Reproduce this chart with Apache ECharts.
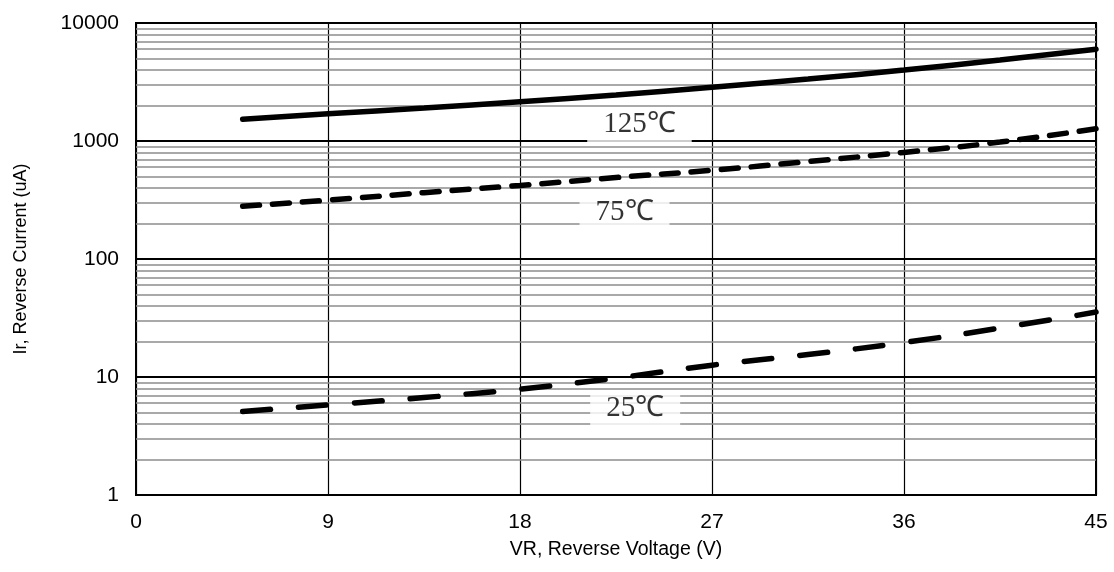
<!DOCTYPE html>
<html><head><meta charset="utf-8">
<script src="https://cdn.jsdelivr.net/npm/echarts@6/dist/echarts.min.js"></script>
<style>html,body{margin:0;padding:0;background:#fff}#c{width:1114px;height:572px}</style>
</head><body><div id="c"></div>
<script>
const voltage = [5, 9, 13.5, 18, 22.5, 27, 31.5, 36, 40.5, 45];
const ir125 = [1530, 1700, 1900, 2150, 2450, 2850, 3350, 4000, 4850, 6000];
const ir75 = [280, 315, 365, 420, 490, 565, 670, 800, 980, 1270];
const ir25 = [5.1, 5.8, 6.7, 7.9, 9.8, 12.6, 15.5, 19.6, 26, 35.5];
const xTicks = [0, 9, 18, 27, 36, 45];
const yTicks = [1, 10, 100, 1000, 10000];
const tempLabels = [
  { text: '125℃', x: 23.6, y: 1380 },
  { text: '75℃', x: 22.9, y: 249 },
  { text: '25℃', x: 23.4, y: 5.43 }
];
const minorGrid = [];
for (let d = 1; d < 10000; d *= 10) for (let k = 2; k <= 9; k++) minorGrid.push(d * k);

const chart = echarts.init(document.getElementById('c'));
const pair = (ys) => voltage.map((v, i) => [v, ys[i]]);
chart.setOption({
  animation: false,
  backgroundColor: '#fff',
  grid: { left: 136, right: 18, top: 23, bottom: 77, show: true, borderColor: '#000', borderWidth: 2, backgroundColor: 'transparent' },
  xAxis: {
    type: 'value', min: xTicks[0], max: xTicks[xTicks.length - 1], interval: 9,
    name: 'VR, Reverse Voltage (V)', nameLocation: 'middle', nameGap: 45,
    nameTextStyle: { fontFamily: 'Liberation Sans', fontSize: 19.5, color: '#000' },
    axisLine: { show: true, lineStyle: { color: '#000', width: 2 } },
    axisTick: { show: false },
    axisLabel: { fontFamily: 'Liberation Sans', fontSize: 21, color: '#000', margin: 17 },
    splitLine: { show: true, lineStyle: { color: '#000', width: 1.2 } }
  },
  yAxis: {
    type: 'log', logBase: 10, min: yTicks[0], max: yTicks[yTicks.length - 1],
    name: 'Ir, Reverse Current (uA)', nameLocation: 'middle', nameGap: 106,
    nameTextStyle: { fontFamily: 'Liberation Sans', fontSize: 18, color: '#000' },
    axisLine: { show: true, lineStyle: { color: '#000', width: 2 } },
    axisTick: { show: false },
    axisLabel: { fontFamily: 'Liberation Sans', fontSize: 21, color: '#000', margin: 17, formatter: v => String(v) },
    splitLine: { show: true, lineStyle: { color: '#000', width: 2 } },
    minorTick: { show: false }, minorSplitLine: { show: false }
  },
  series: [
    {
      type: 'line', data: [], silent: true, z: 1,
      markLine: {
        silent: true, symbol: 'none', label: { show: false }, z: 1,
        lineStyle: { color: '#8c8c8c', width: 1.6, type: 'solid' },
        data: minorGrid.map(v => ({ yAxis: v }))
      }
    },
    { name: '125', type: 'line', data: pair(ir125), smooth: true, showSymbol: false, z: 10,
      lineStyle: { color: '#000', width: 5.5, cap: 'round' } },
    { name: '75', type: 'line', data: pair(ir75), smooth: true, showSymbol: false, z: 10,
      lineStyle: { color: '#000', width: 5.5, cap: 'round', type: [17, 13] } },
    { name: '25', type: 'line', data: pair(ir25), smooth: true, showSymbol: false, z: 10,
      lineStyle: { color: '#000', width: 5.5, cap: 'round', type: [28, 28] } },
    { type: 'scatter', z: 20, symbolSize: 0, silent: true,
      data: tempLabels.map(l => ({ value: [l.x, l.y], label: { formatter: l.text } })),
      label: { show: true, position: 'inside', fontFamily: 'Liberation Serif', fontSize: 29, color: '#000',
        backgroundColor: '#fff', padding: [4, 16, 2, 16] } }
  ]
});
</script></body></html>
